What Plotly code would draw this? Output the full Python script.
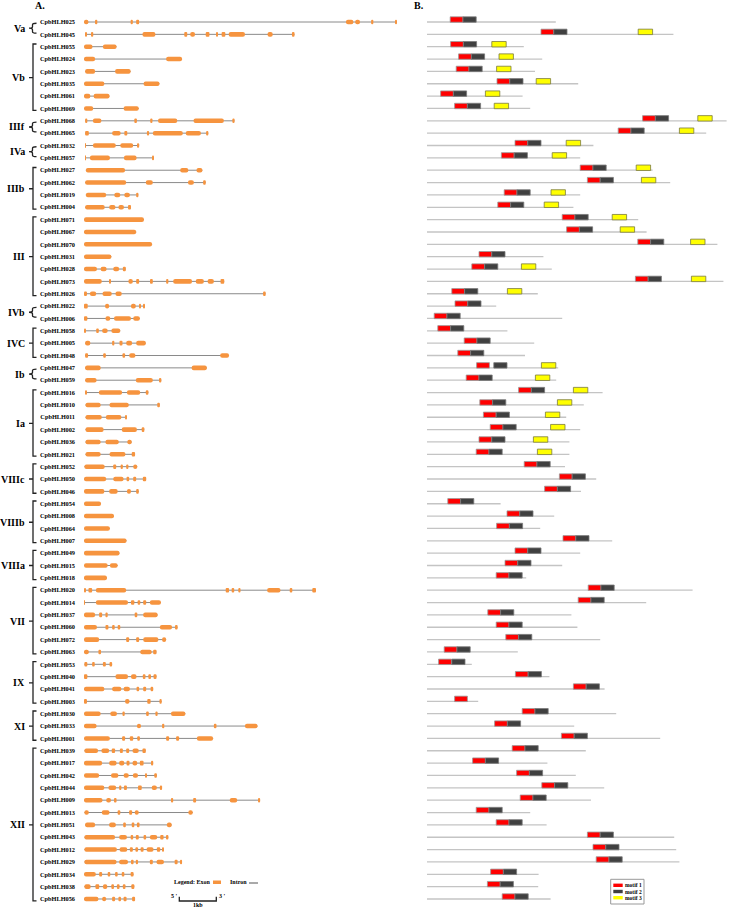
import plotly.graph_objects as go

# ---------------- DATA ----------------
gene_ids = ["025","045","055","024","023","035","061","069","068","065","032","057",
            "027","062","019","004","071","067","070","031","028","073","026","022",
            "006","058","005","048","047","059","016","010","011","002","036","021",
            "052","050","046","054","008","064","007","049","015","018","020","014",
            "037","060","072","063","053","040","041","003","030","033","001","039",
            "017","042","044","009","013","051","043","012","029","034","038","056"]

group_names = ["Va","Vb","IIIf","IVa","IIIb","III","IVb","IVC","Ib","Ia",
               "VIIIc","VIIIb","VIIIa","VII","IX","XI","XII"]
group_sizes = [2,6,2,2,4,7,2,3,2,6,3,4,3,6,4,3,13]

# exon coordinates (kb from start codon)
exons = [
 [[0,0.12],[0.32,0.36],[1.26,1.32],[1.41,1.49],[7.08,7.28],[7.33,7.46],[7.76,7.82],[8.41,8.45]],
 [[0.03,0.06],[0.21,0.25],[1.58,1.93],[2.71,2.79],[2.87,3.0],[3.29,3.39],[3.57,3.62],[3.72,3.82],[3.91,4.35],[4.96,5.1],[5.62,5.69]],
 [[0,0.23],[0.51,0.88]],
 [[0,0.3],[2.22,2.65]],
 [[0.03,0.3],[0.84,1.26]],
 [[0,0.55],[1.61,2.04]],
 [[0,0.17],[0.26,0.69]],
 [[0,0.25],[1.07,1.48]],
 [[0.03,0.09],[0.24,0.47],[1.36,1.43],[1.79,1.85],[2.0,2.52],[2.96,3.78],[4.01,4.07]],
 [[0.03,0.13],[0.76,0.99],[1.09,1.17],[1.7,1.76],[1.86,2.67],[2.75,3.16],[3.3,3.36]],
 [[0.03,0.05],[0.24,0.86],[0.98,1.33],[1.44,1.49]],
 [[0.03,0.05],[0.16,0.7],[1.08,1.42],[1.84,1.88]],
 [[0.05,1.11],[2.6,2.82],[3.04,3.2]],
 [[0.03,1.14],[1.67,1.86],[2.81,2.97],[3.22,3.29]],
 [[0.05,0.6],[0.82,0.98],[1.09,1.24],[1.41,1.47]],
 [[0.03,0.56],[0.68,0.85],[0.93,1.08],[1.19,1.27]],
 [[0,1.62]],
 [[0,1.41]],
 [[0,1.84]],
 [[0,0.74]],
 [[0,0.35],[0.45,0.61],[0.79,0.95],[1.05,1.13]],
 [[0,0.48],[0.68,0.73],[1.2,1.32],[1.41,1.49],[1.81,1.86],[2.22,2.28],[2.41,2.92],[3.02,3.24],[3.34,3.51],[3.69,3.79]],
 [[0,0.08],[0.16,0.33],[0.5,0.75],[0.85,1.02],[4.84,4.91]],
 [[0,0.1],[0.57,0.68],[1.27,1.4],[1.49,1.53],[1.6,1.64]],
 [[0,0.09],[0.58,0.71],[0.81,1.27],[1.33,1.51]],
 [[0.01,0.05],[0.33,0.4],[0.49,0.64],[0.74,0.98]],
 [[0.03,0.17],[0.76,0.82],[0.96,1.04],[1.14,1.3],[1.41,1.67]],
 [[0.03,0.11],[0.52,0.59],[1.04,1.11],[1.22,1.39],[3.68,3.92]],
 [[0.03,0.45],[2.91,3.32]],
 [[0.03,0.34],[1.4,1.86],[2.05,2.09]],
 [[0.04,0.07],[0.4,1.03],[1.16,1.52],[1.67,1.74]],
 [[0.04,0.45],[0.69,1.21],[1.98,2.05]],
 [[0.04,0.48],[0.59,1.01],[1.11,1.14]],
 [[0.04,0.53],[1.02,1.43],[1.56,1.63]],
 [[0.04,0.45],[0.58,0.94],[1.17,1.29]],
 [[0.04,0.45],[0.69,1.12],[1.29,1.38]],
 [[0.01,0.56],[0.79,0.87],[0.99,1.05],[1.14,1.2],[1.33,1.44]],
 [[0,0.6],[0.79,1.07],[1.15,1.22],[1.33,1.41],[1.59,1.68]],
 [[0,0.55],[0.68,0.91],[1.16,1.27],[1.41,1.48]],
 [[0,0.46]],
 [[0,0.81]],
 [[0,0.7]],
 [[0,1.15]],
 [[0,0.96]],
 [[0,0.64],[0.7,0.91]],
 [[0,0.62]],
 [[0,0.05],[0.12,0.22],[0.32,1.14],[3.83,3.92],[3.99,4.06],[4.17,4.23],[4.95,5.31],[5.56,5.63],[6.17,6.27]],
 [[0,0.01],[0.32,1.19],[1.27,1.36],[1.45,1.52],[1.6,1.68],[1.78,2.08]],
 [[0,0.3],[0.41,0.49],[0.58,0.64],[1.37,1.44],[1.6,1.99]],
 [[0,0.35],[0.58,0.66],[0.76,0.83],[0.91,0.98],[2.05,2.38],[2.46,2.53]],
 [[0,0.41],[1.14,1.22],[1.41,1.49],[1.6,2.01],[2.11,2.22]],
 [[0,0.13],[0.39,0.46],[1.52,1.83],[1.87,1.96]],
 [[0.01,0.09],[0.22,0.29],[0.51,0.59],[0.69,0.76]],
 [[0,0.09],[0.85,1.19],[1.27,1.42],[1.59,1.66],[1.74,1.81],[1.88,1.96]],
 [[0,0.55],[0.76,1.01],[1.07,1.24],[1.42,1.49],[1.6,1.68],[1.8,1.87]],
 [[0,0.08],[1.11,1.23],[1.71,1.8],[2.04,2.1]],
 [[0,0.45],[0.71,0.89],[1.04,1.1],[1.68,1.75],[1.93,1.99],[2.35,2.74]],
 [[0,0.34],[1.43,1.54],[2.11,2.17],[3.51,3.58],[4.35,4.69]],
 [[0,0.7],[1.03,1.11],[1.24,1.33],[1.44,1.51],[2.22,2.3],[2.49,2.57],[3.05,3.49]],
 [[0.01,0.38],[0.47,0.68],[0.75,0.84],[0.97,1.05],[1.14,1.22],[1.31,1.48],[1.58,1.67]],
 [[0,0.49],[0.68,0.88],[0.95,1.09],[1.15,1.23],[1.31,1.44],[1.51,1.61],[1.83,1.87]],
 [[0,0.41],[0.73,0.93],[1.07,1.21],[1.32,1.46],[1.65,1.7],[1.9,1.97]],
 [[0,0.55],[0.66,0.87],[0.95,1.01],[1.08,1.16],[1.46,1.56],[1.83,1.97],[2.05,2.11]],
 [[0,0.5],[0.6,0.73],[0.81,0.88],[2.35,2.41],[2.95,3.03],[3.94,4.14],[4.71,4.76]],
 [[0.01,0.13],[0.48,0.69],[0.91,0.98],[1.22,1.3],[1.37,1.48],[2.82,2.94]],
 [[0.03,0.3],[0.68,0.86],[1.06,1.13],[1.29,1.36],[1.43,1.5],[2.24,2.37]],
 [[0.01,0.84],[0.95,1.16],[1.26,1.33],[1.4,1.48],[1.61,1.68],[1.78,1.98],[2.06,2.15],[2.23,2.28]],
 [[0.01,0.89],[0.96,1.17],[1.24,1.32],[1.39,1.46],[1.53,1.61],[1.69,1.88],[1.97,2.06],[2.11,2.16]],
 [[0.01,0.88],[0.95,1.19],[1.27,1.34],[1.4,1.46],[1.78,1.86],[1.96,2.16],[2.45,2.53],[2.6,2.65]],
 [[0,0.32],[0.41,0.49],[0.64,0.71],[0.84,0.91],[1.02,1.09],[1.26,1.34]],
 [[0.01,0.18],[0.31,0.41],[0.51,0.63],[0.74,0.81],[0.89,0.96],[1.05,1.12],[1.28,1.36]],
 [[0,0.39],[0.49,0.6],[0.76,0.84],[0.93,1.0],[1.07,1.15],[1.3,1.38]],
]

# protein lengths (aa) and motif start positions (aa)
protein_len = [322,616,242,288,270,378,239,258,749,698,416,383,564,608,383,366,528,549,
               726,291,312,741,277,173,338,201,268,245,328,323,439,392,348,383,356,356,
               345,423,385,184,318,283,463,383,338,248,664,548,361,376,433,227,112,306,
               444,128,473,368,583,397,301,372,443,410,258,299,618,623,631,279,278,309]
motif1_start = [58,285,59,79,73,175,34,69,539,478,220,186,383,401,193,177,338,349,
                527,130,112,521,62,70,18,27,93,77,124,98,229,132,141,158,130,123,
                243,331,294,52,200,174,340,220,195,173,403,378,152,173,197,43,29,221,
                366,69,238,169,336,213,114,224,287,233,123,173,401,415,423,159,151,188]
motif2_start = [90,317,91,111,105,207,66,101,571,510,252,218,415,433,225,209,370,381,
                559,162,144,553,94,102,50,59,125,109,167,130,261,164,173,190,162,155,
                275,363,326,84,232,206,372,252,227,205,435,410,184,205,229,75,62,253,
                398,None,270,201,368,245,146,256,319,265,155,205,433,447,455,191,183,220]
motif3_start = [None,528,162,180,174,273,146,168,677,631,348,313,523,536,310,293,463,483,
                659,None,236,661,201,None,None,None,None,None,286,271,366,326,296,309,266,276,
                None,None,None,None,None,None,None,None,None,None,None,None,None,None,None,None,
                None,None,None,None,None,None,None,None,None,None,None,None,None,None,None,None,
                None,None,None,None]
motif_len = {"motif 1": 32, "motif 2": 33, "motif 3": 36}

# ---------------- GEOMETRY / STYLE ----------------
W, H = 729, 909
ROW0_PX, ROW_STEP = 22.0, 12.352
A_X0, A_X1, A_PX_PER_KB = 84.0, 400.0, 37.0
B_X0, B_X1, B_PX_PER_AA = 427.0, 729.0, 0.4
SERIF = "Liberation Serif"
EXON_COLOR = "#F6943F"

def pxx(x): return x / W
def pxy(y): return 1 - y / H

n = len(gene_ids)
rows = list(range(n))
gene_labels = ["CpbHLH" + g for g in gene_ids]

fig = go.Figure()
shapes, annotations = [], []

# introns (gene span) and protein backbones as data-space lines below the traces
for i, ex in enumerate(exons):
    shapes.append(dict(type="line", xref="x", yref="y", layer="below",
                       x0=ex[0][0], x1=ex[-1][1], y0=i, y1=i,
                       line=dict(color="#8a8a8a", width=1)))
for i, L in enumerate(protein_len):
    shapes.append(dict(type="line", xref="x2", yref="y", layer="below",
                       x0=0, x1=L, y0=i, y1=i,
                       line=dict(color="#c4c4c4", width=1.3)))

# exons
ey, eb, el = [], [], []
for i, ex in enumerate(exons):
    for s, e in ex:
        ey.append(i); eb.append(s); el.append(e - s)
fig.add_trace(go.Bar(y=ey, x=el, base=eb, orientation="h", width=0.37,
                     marker=dict(color=EXON_COLOR, line=dict(width=0), cornerradius="50%"),
                     showlegend=False, xaxis="x", yaxis="y"))

motif_styles = [("motif 1", motif1_start, "#FF0000", "#9a9a9a"),
                ("motif 2", motif2_start, "#404040", "#7a7a7a"),
                ("motif 3", motif3_start, "#FFFF00", "#7a7a40")]
for name, starts, fill, edge in motif_styles:
    yy = [i for i, s in enumerate(starts) if s is not None]
    ss = [s for s in starts if s is not None]
    fig.add_trace(go.Bar(y=yy, x=[motif_len[name]] * len(ss), base=ss, orientation="h",
                         width=0.44, offset=-0.42,
                         marker=dict(color=fill, line=dict(color=edge, width=0.8)),
                         name=name, showlegend=False, xaxis="x2", yaxis="y"))

y_top = -ROW0_PX / ROW_STEP
y_bot = (H - ROW0_PX) / ROW_STEP

fig.update_layout(
    width=W, height=H, margin=dict(l=0, r=0, t=0, b=0),
    paper_bgcolor="white", plot_bgcolor="rgba(0,0,0,0)", barmode="overlay",
    xaxis=dict(domain=[pxx(A_X0), pxx(A_X1)], range=[0, (A_X1 - A_X0) / A_PX_PER_KB],
               visible=False, anchor="y"),
    xaxis2=dict(domain=[pxx(B_X0), pxx(B_X1)], range=[0, (B_X1 - B_X0) / B_PX_PER_AA],
                visible=False, anchor="y"),
    yaxis=dict(domain=[0, 1], range=[y_bot, y_top], tickvals=rows, ticktext=gene_labels,
               showgrid=False, zeroline=False, showline=False, ticks="",
               ticklabelstandoff=8, automargin=False, anchor="x",
               tickfont=dict(family=SERIF, size=6.3, color="black", weight="bold")),
)

BR = dict(color="#222222", width=1.3)
x_line, x_right, x_mid = pxx(33), pxx(36.5), pxx(29)
start = 0
for name, size in zip(group_names, group_sizes):
    first, last = start, start + size - 1
    ym = (first + last) / 2
    if size == 2:
        y0, y1 = first + 0.1, last - 0.1
        d = 0.12
        xl = pxx(32.5)
        path = (f"M {x_right},{y0} Q {xl},{y0} {xl},{y0+d} L {xl},{ym-d} "
                f"Q {xl},{ym} {x_mid},{ym} Q {xl},{ym} {xl},{ym+d} "
                f"L {xl},{y1-d} Q {xl},{y1} {x_right},{y1}")
    else:
        y0, y1 = first - 0.22, last + 0.15
        path = (f"M {x_right},{y0} L {x_line},{y0} L {x_line},{y1} L {x_right},{y1} "
                f"M {x_line},{ym} L {x_mid},{ym}")
    shapes.append(dict(type="path", path=path, xref="paper", yref="y", line=BR))
    annotations.append(dict(text=name, x=pxx(26.5), y=ym, xref="paper", yref="y",
                            xanchor="right", yanchor="middle", showarrow=False,
                            font=dict(family=SERIF, size=10, color="black", weight="bold")))
    start += size

# panel titles
for t, x in [("A.", 40), ("B.", 419)]:
    annotations.append(dict(text=t, x=pxx(x), y=pxy(6), xref="paper", yref="paper",
                            xanchor="center", yanchor="middle", showarrow=False,
                            font=dict(family=SERIF, size=10, color="black", weight="bold")))

small = dict(family=SERIF, size=6, color="black", weight="bold")
# gene structure legend
annotations.append(dict(text="Legend: Exon", x=pxx(172), y=pxy(882), xref="paper", yref="paper",
                        xanchor="left", yanchor="middle", showarrow=False, font=small))
shapes.append(dict(type="rect", x0=pxx(213), x1=pxx(221), y0=pxy(880.5), y1=pxy(884),
                   xref="paper", yref="paper", fillcolor=EXON_COLOR, line=dict(width=0)))
annotations.append(dict(text="Intron", x=pxx(228), y=pxy(882), xref="paper", yref="paper",
                        xanchor="left", yanchor="middle", showarrow=False, font=small))
shapes.append(dict(type="line", x0=pxx(249), x1=pxx(258), y0=pxy(883), y1=pxy(883),
                   xref="paper", yref="paper", line=dict(color="#555555", width=1)))
# scale bar: 1 kb in panel-A data units
sb0 = (179.3 - A_X0) / A_PX_PER_KB
shapes.append(dict(type="path", xref="x", yref="paper",
                   path=f"M {sb0},{pxy(896.7)} L {sb0},{pxy(901)} L {sb0+1},{pxy(901)} L {sb0+1},{pxy(896.7)}",
                   line=dict(color="#222222", width=1.3)))
annotations.append(dict(text="5 '", x=pxx(174), y=pxy(896), xref="paper", yref="paper",
                        xanchor="center", yanchor="middle", showarrow=False, font=small))
annotations.append(dict(text="3 '", x=pxx(222), y=pxy(896), xref="paper", yref="paper",
                        xanchor="center", yanchor="middle", showarrow=False, font=small))
annotations.append(dict(text="1kb", x=pxx(198), y=pxy(905), xref="paper", yref="paper",
                        xanchor="center", yanchor="middle", showarrow=False, font=small))

# motif legend
shapes.append(dict(type="rect", x0=pxx(610.7), x1=pxx(644), y0=pxy(879.3), y1=pxy(904),
                   xref="paper", yref="paper", fillcolor="white", line=dict(color="#999999", width=1)))
for k, (name, _, fill, edge) in enumerate(motif_styles):
    yc = 885.3 + 6.2 * k
    shapes.append(dict(type="rect", x0=pxx(613.3), x1=pxx(622.7), y0=pxy(yc - 1.7), y1=pxy(yc + 1.7),
                       xref="paper", yref="paper", fillcolor=fill, line=dict(width=0)))
    annotations.append(dict(text=name, x=pxx(623.3), y=pxy(yc), xref="paper", yref="paper",
                            xanchor="left", yanchor="middle", showarrow=False,
                            font=dict(family=SERIF, size=5.5, color="black", weight="bold")))

fig.update_layout(shapes=shapes, annotations=annotations)
fig.write_html("out.html", config={"displayModeBar": False},
               post_script="document.body.style.margin='0px';")
